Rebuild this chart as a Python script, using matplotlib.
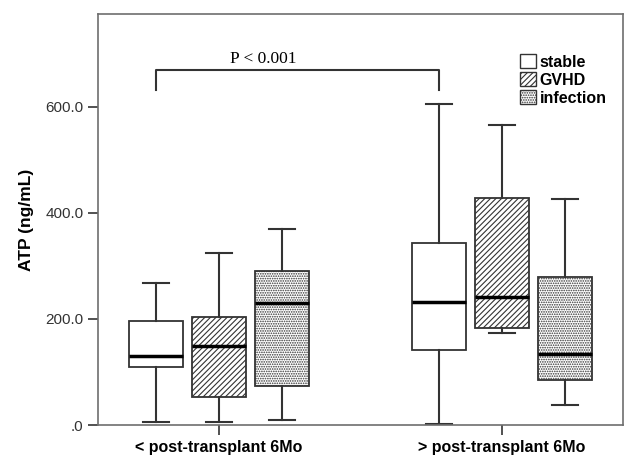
import matplotlib
matplotlib.use('Agg')
import matplotlib.pyplot as plt
from matplotlib.patches import Patch

plt.rcParams['font.family'] = ['Liberation Sans', 'DejaVu Sans']
plt.rcParams['hatch.linewidth'] = 0.8

# data
groups = ['< post-transplant 6Mo', '> post-transplant 6Mo']
series = ['stable', 'GVHD', 'infection']
# per group: stable, GVHD, infection
whislo = [[6, 6, 10], [2, 174, 38]]
q1 = [[109, 53, 73], [141, 183, 85]]
med = [[130, 149, 230], [232, 241, 134]]
q3 = [[196, 204, 290], [343, 428, 279]]
whishi = [[268, 325, 370], [606, 566, 426]]

hatches = ['', '//////', '.......']
hatch_colors = ['#333333', '#333333', '#999999']

fig = plt.figure(figsize=(6.27, 4.55), dpi=100)
ax = fig.add_axes([0.1563, 0.0659, 0.8373, 0.9033])

offsets = [-0.2226, 0, 0.2226]
for g in range(len(groups)):
    for s in range(len(series)):
        st = [{'whislo': whislo[g][s], 'q1': q1[g][s], 'med': med[g][s],
               'q3': q3[g][s], 'whishi': whishi[g][s], 'fliers': []}]
        b = ax.bxp(st, positions=[g + 1 + offsets[s]], widths=0.19,
                   capwidths=0.09, patch_artist=True, manage_ticks=False,
                   boxprops=dict(facecolor='white', edgecolor='#333333', linewidth=1.3),
                   whiskerprops=dict(color='#333333', linewidth=1.5),
                   capprops=dict(color='#333333', linewidth=1.5),
                   medianprops=dict(color='black', linewidth=2.5))
        for box in b['boxes']:
            box.set_hatch(hatches[s])
            box.set_hatch_color(hatch_colors[s]) if hasattr(box, 'set_hatch_color') else None
            box.set_edgecolor('#333333')

ax.set_xlim(0.572, 2.428)
ax.set_ylim(0, 775)
ax.set_xticks([1, 2])
ax.set_xticklabels(groups, fontweight='bold', fontsize=11.5)
ax.set_yticks([0, 200, 400, 600])
ax.set_yticklabels(['.0', '200.0', '400.0', '600.0'], fontsize=11, color='#333333')
ax.set_ylabel('ATP (ng/mL)', fontweight='bold', fontsize=12.5, labelpad=8)
ax.tick_params(axis='both', direction='out', length=7, width=1.2, color='#333333')

for sp in ax.spines.values():
    sp.set_color('#6e6e6e')
    sp.set_linewidth(1.2)

# significance bracket between the two stable boxes
x1 = 1 + offsets[0]
x2 = 2 + offsets[0]
ax.plot([x1, x1, x2, x2], [632, 670, 670, 632], color='#333333', linewidth=1.5)
ax.text(1.155, 676, 'P < 0.001', ha='center', va='bottom', fontsize=12.5,
        family=['Liberation Serif', 'DejaVu Serif'])

handles = [Patch(facecolor='white', edgecolor='#333333', hatch=h, label=l)
           for h, l in zip(hatches, series)]
leg = ax.legend(handles=handles, loc='upper right', bbox_to_anchor=(0.99, 0.93),
                frameon=False, handlelength=1.0, handleheight=1.0, handletextpad=0.2,
                labelspacing=0.15, borderpad=0.2, prop={'weight': 'bold', 'size': 11.5})

fig.savefig('out.png', dpi=100)
